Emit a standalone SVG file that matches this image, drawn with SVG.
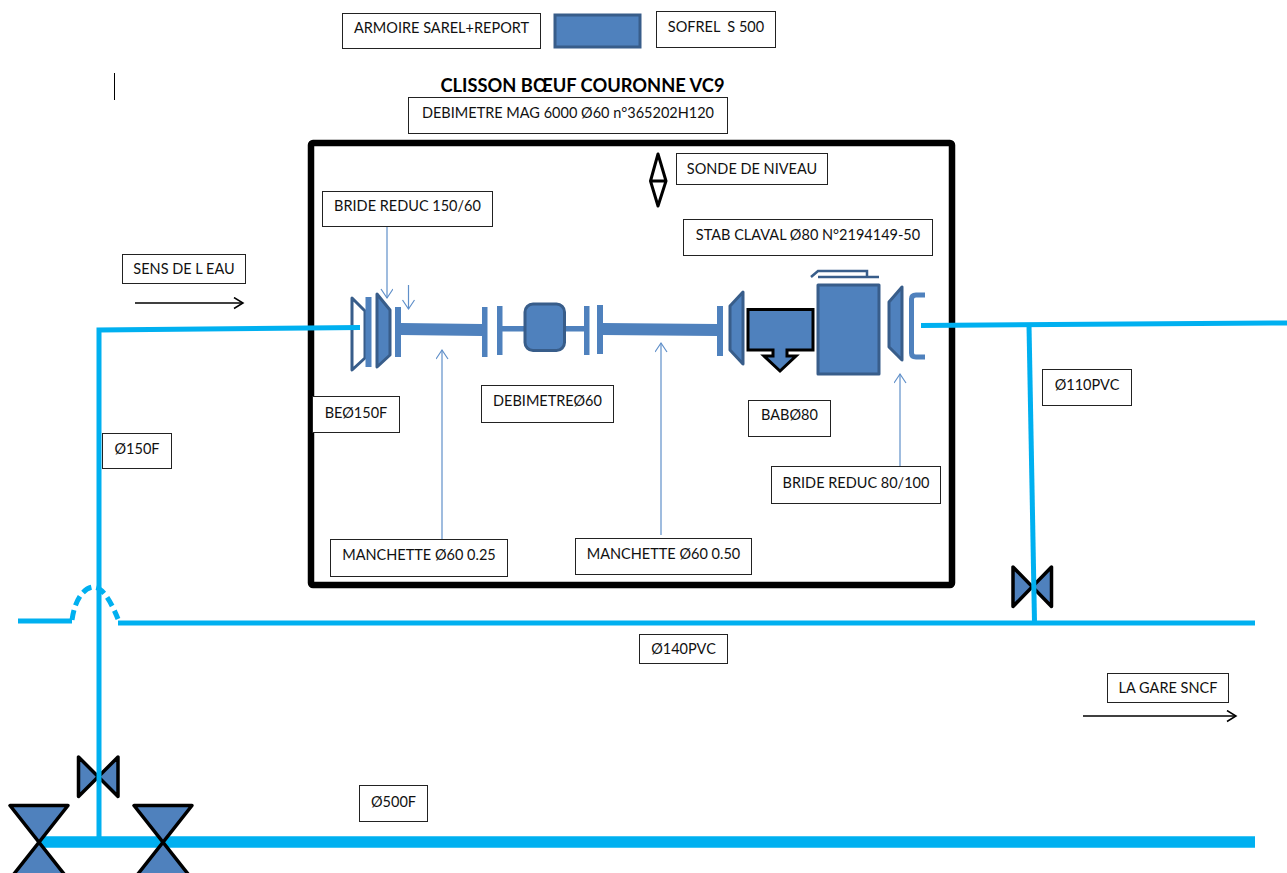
<svg xmlns="http://www.w3.org/2000/svg" width="1287" height="873" viewBox="0 0 1287 873">
<style>
text{font-family:Lato,"Liberation Sans",sans-serif;font-size:14.5px;fill:#111;text-anchor:middle;white-space:pre}
.title{font-size:18.3px;font-weight:700;fill:#000}
.lb rect{fill:#fff;stroke:#222;stroke-width:1}
.pipe{fill:none;stroke:#00b0f0;stroke-width:5}
.main{stroke-width:11.5}
.dash{stroke-dasharray:10 5}
.part{fill:#4f81bd;stroke:#385d8a;stroke-width:3;stroke-linejoin:round}
.bar{fill:#4f81bd}
.valve{fill:#4f81bd;stroke:#000;stroke-width:3.5;stroke-linejoin:round}
.lead{fill:none;stroke:#5f8fc9;stroke-width:1.2}
.blk{fill:none;stroke:#000;stroke-width:1.5}
</style>
<defs>
<marker id="ah" markerUnits="userSpaceOnUse" markerWidth="12" markerHeight="14" refX="10" refY="6" orient="auto"><path d="M1 0L10 6L1 12" fill="none" stroke="#5f8fc9" stroke-width="1.2"/></marker>
<marker id="ak" markerUnits="userSpaceOnUse" markerWidth="12" markerHeight="14" refX="10" refY="6" orient="auto"><path d="M1 0.5L10 6L1 11.5" fill="none" stroke="#000" stroke-width="1.5"/></marker>
</defs>

<g id="frame"><rect x="311" y="143" width="641" height="442" rx="2" fill="none" stroke="#000" stroke-width="6.5"/></g>

<g id="valve-branch"><path class="valve" d="M1013 567V606.500L1051.500 567V606.500Z"/></g>
<g id="valve-150"><path class="valve" d="M78.500 757V796.500L118 757V796.500Z"/></g>

<g id="bride-entree">
<path d="M352 298L365 311V358L352 370Z" fill="#fff" stroke="#385d8a" stroke-width="3" stroke-linejoin="round"/>
<rect class="bar" x="365.500" y="297" width="6" height="70"/>
<path class="part" d="M377 294L390 310V355L377 367Z"/>
</g>

<g id="connectors">
<path class="pipe" d="M360 327.500L99 330V838"/>
<path class="pipe" d="M921 325.500L1287 323"/>
<path class="pipe" d="M1029 325L1034.500 622"/>
<path class="pipe" d="M18 621H72"/>
<path class="pipe" d="M118 623H1255"/>
<path class="pipe dash" d="M72 620C75 598 85 587 94 587C103 587 112 604 118 619"/>
<path class="pipe main" d="M40 842H1255"/>
<path class="lead" d="M387 226V298" marker-end="url(#ah)"/>
<path class="lead" d="M408.500 285V309" marker-end="url(#ah)"/>
<path class="lead" d="M442 540V350" marker-end="url(#ah)"/>
<path class="lead" d="M661 535V343" marker-end="url(#ah)"/>
<path class="lead" d="M900 466V374" marker-end="url(#ah)"/>
<path class="blk" d="M135 303H243" marker-end="url(#ak)"/>
<path class="blk" d="M1083 716H1236" marker-end="url(#ak)"/>
<path d="M114.500 73V100" fill="none" stroke="#000" stroke-width="1"/>
</g>

<g id="valve-500a"><path class="valve" d="M10 805.500H68L10 879H68Z"/></g>
<g id="valve-500b"><path class="valve" d="M134 805.500H192L134 879H192Z"/></g>

<g id="manchette-025">
<rect class="bar" x="395" y="307" width="6" height="50"/>
<path class="bar" d="M401 323L482 324V336L401 335Z"/>
<rect class="bar" x="482" y="307" width="5.500" height="50"/>
</g>
<g id="debimetre">
<rect class="bar" x="497" y="306" width="5.500" height="49"/>
<rect class="bar" x="502" y="326" width="84" height="5.500"/>
<rect class="part" x="525" y="304" width="39.500" height="46.500" rx="8"/>
<rect class="bar" x="584" y="306" width="5.500" height="49"/>
</g>
<g id="manchette-050">
<rect class="bar" x="597" y="305" width="6" height="49"/>
<path class="bar" d="M603 323L717 324V336L603 335Z"/>
<rect class="bar" x="717" y="306" width="6" height="50"/>
</g>
<g id="bride-sortie"><path class="part" d="M743 292V364L730 350V306Z"/></g>
<g id="bab">
<path d="M748 309.500H813V350H787V356H796L780 371L764 356H773V350H748Z" fill="#4f81bd" stroke="#000" stroke-width="3"/>
</g>
<g id="stab">
<rect class="part" x="818" y="285" width="61" height="89"/>
<path d="M811 277L818 271H867V277M818 277H879" fill="none" stroke="#385d8a" stroke-width="2.500"/>
</g>
<g id="bride-reduc">
<path class="part" d="M902 287V360L889 347V302Z"/>
<path d="M925 295H916Q911.500 295 911.500 299V353Q911.500 357 916 357H925" fill="none" stroke="#4f81bd" stroke-width="5"/>
</g>
<g id="sonde"><path d="M658 154L666 181L658 206L650.500 181ZM650.500 181H666" fill="#fff" stroke="#000" stroke-width="3" stroke-linejoin="round"/></g>

<rect id="sofrel-symbol" x="555" y="15" width="85" height="32" fill="#4f81bd" stroke="#385d8a" stroke-width="3"/>

<g id="labels" class="lb">
<g id="l1"><rect x="342.500" y="13.500" width="198" height="35"/><text x="441.500" y="33">ARMOIRE SAREL+REPORT</text></g>
<g id="l2"><rect x="656.500" y="11.500" width="119" height="36"/><text x="716" y="32">SOFREL  S 500</text></g>
<text class="title" x="582.500" y="92">CLISSON BŒUF COURONNE VC9</text>
<g id="l3"><rect x="408.500" y="97.500" width="319" height="36"/><text x="568" y="118">DEBIMETRE MAG 6000 Ø60 n°365202H120</text></g>
<g id="l4"><rect x="676.500" y="153.500" width="151" height="31"/><text x="752" y="174">SONDE DE NIVEAU</text></g>
<g id="l5"><rect x="322.500" y="191.500" width="170" height="35"/><text x="407.500" y="211">BRIDE REDUC 150/60</text></g>
<g id="l6"><rect x="683.500" y="219.500" width="249" height="36"/><text x="808" y="240">STAB CLAVAL Ø80 N°2194149-50</text></g>
<g id="l7"><rect x="122.500" y="254.500" width="123" height="29"/><text x="184" y="274">SENS DE L EAU</text></g>
<g id="l8"><rect x="312.500" y="396.500" width="87" height="36"/><text x="356" y="418">BEØ150F</text></g>
<g id="l9"><rect x="481.500" y="385.500" width="132" height="37"/><text x="547.500" y="406">DEBIMETREØ60</text></g>
<g id="l10"><rect x="748.500" y="400.500" width="82" height="36"/><text x="789.500" y="420">BABØ80</text></g>
<g id="l11"><rect x="1042.500" y="369.500" width="89" height="36"/><text x="1087" y="390">Ø110PVC</text></g>
<g id="l12"><rect x="102.500" y="433.500" width="69" height="35"/><text x="137" y="454">Ø150F</text></g>
<g id="l13"><rect x="771.500" y="466.500" width="169" height="37"/><text x="856" y="488">BRIDE REDUC 80/100</text></g>
<g id="l14"><rect x="330.500" y="539.500" width="177" height="37"/><text x="419" y="560">MANCHETTE Ø60 0.25</text></g>
<g id="l15"><rect x="575.500" y="538.500" width="176" height="36"/><text x="663.500" y="559">MANCHETTE Ø60 0.50</text></g>
<g id="l16"><rect x="639.500" y="634.500" width="88" height="29"/><text x="683.500" y="654">Ø140PVC</text></g>
<g id="l17"><rect x="1107.500" y="673.500" width="121" height="29"/><text x="1168" y="693">LA GARE SNCF</text></g>
<g id="l18"><rect x="359.500" y="785.500" width="68" height="36"/><text x="393.500" y="807">Ø500F</text></g>
</g>
</svg>
